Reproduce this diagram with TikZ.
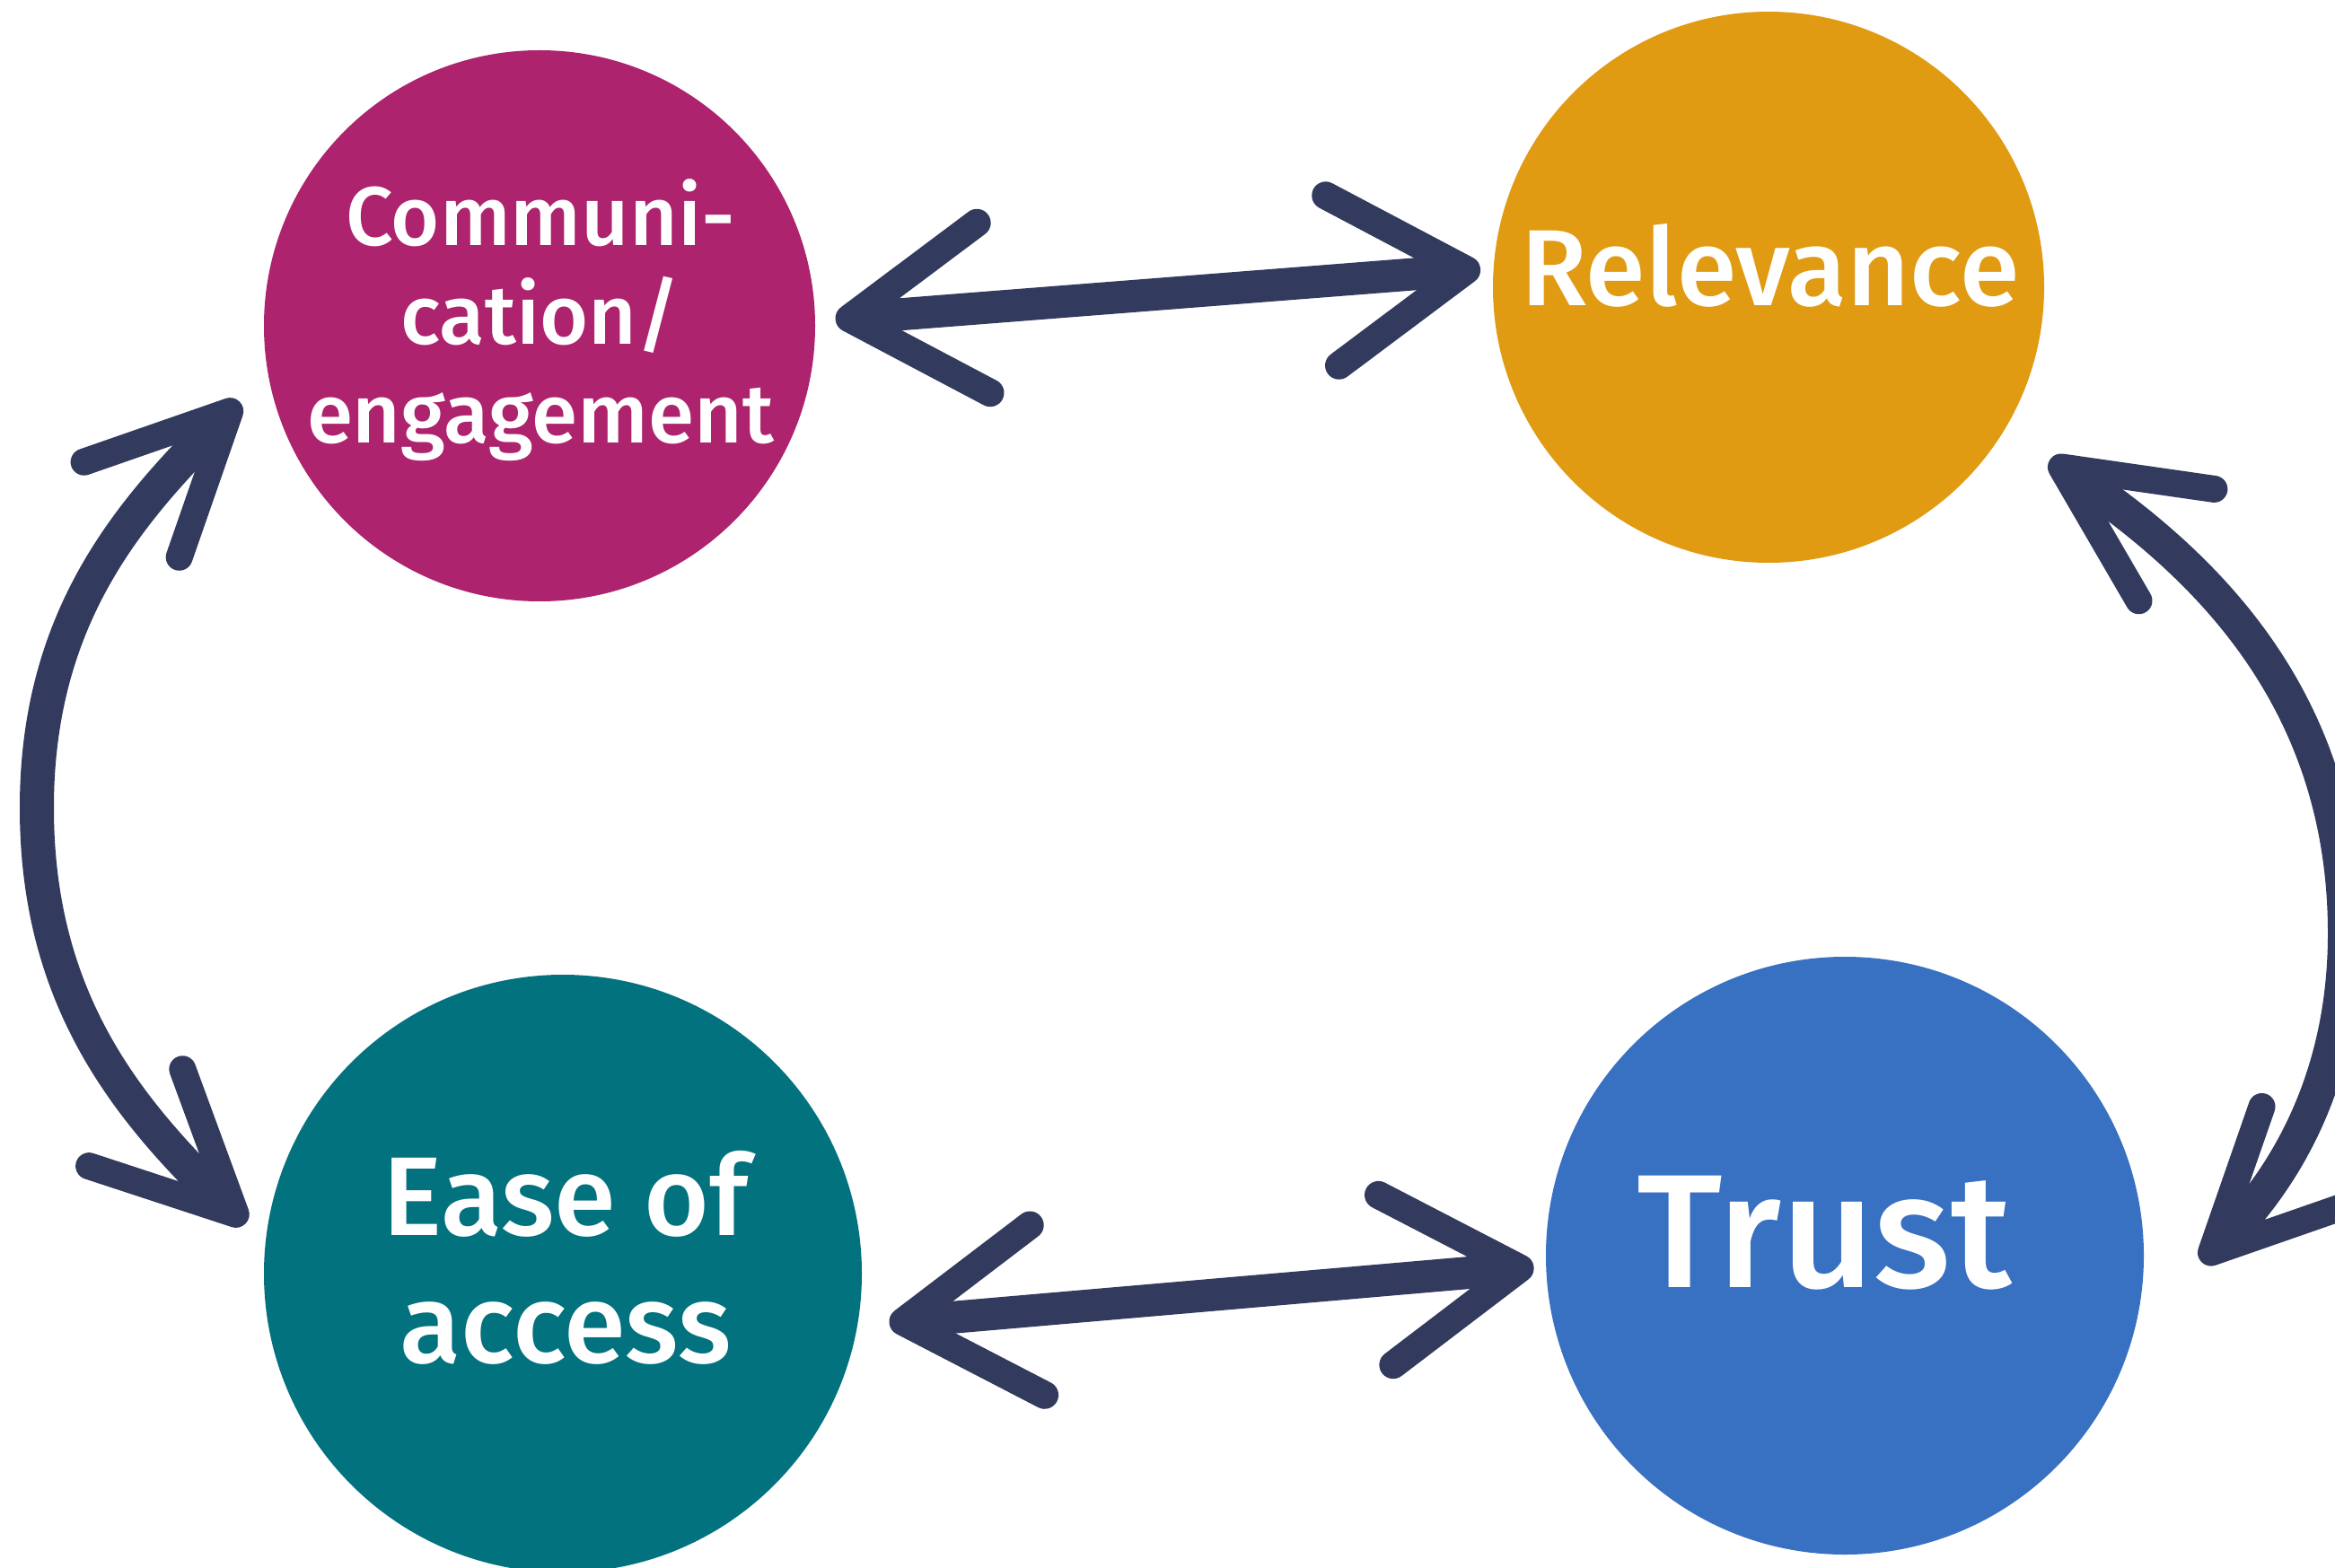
\documentclass[tikz,border=0pt]{standalone}
\usepackage{fontspec}
\setmainfont{Fira Sans}[BoldFont={Fira Sans Medium}]
\usepackage{tikz}
\usetikzlibrary{arrows.meta}
\definecolor{commpink}{RGB}{173,35,110}
\definecolor{relorange}{RGB}{224,155,19}
\definecolor{easeteal}{RGB}{3,114,127}
\definecolor{trustblue}{RGB}{56,112,194}
\definecolor{arrowink}{RGB}{50,59,94}
\tikzset{blob/.style={circle, inner sep=0pt, minimum size=#1}}
\tikzset{blob/.default=6.14cm}
\tikzset{tag/.style={text=white, align=center, inner sep=0pt}}
\tikzset{twoway/.style={line width=3.6mm, draw=arrowink, line cap=round,
    >={Straight Barb[length=15mm, width=19mm, line width=3.1mm, round]}, <->}}
\tikzset{roundway/.style={twoway, line width=3.8mm,
    >={Straight Barb[length=15.5mm, width=15mm, line width=3mm, round]}}}

\begin{document}
\begin{tikzpicture}
  \useasboundingbox (0,0) rectangle (26.01,-17.47);

  \node (comm) at (6.01,-3.63)[blob, fill=commpink]{};
  \node (rel) at (19.70,-3.20)[blob, fill=relorange]{};
  \node (ease) at (6.27,-14.19)[blob=6.66cm, fill=easeteal]{};
  \node (trust) at (20.55,-13.99)[blob=6.66cm, fill=trustblue]{};

  \node (commtext) at (6.02,-3.57)[tag, font=\fontsize{26.4}{31.3}\selectfont\bfseries]{Communi-\\cation/\\engagement};
  \node (reltext) at (19.72,-3.41)[tag, anchor=base, font=\fontsize{34.3}{40}\selectfont\bfseries]{Relevance};
  \node (easetext) at (6.30,-14.01)[tag, font=\fontsize{35.5}{40.4}\selectfont\bfseries]{Ease of\\access};
  \node (trusttext) at (20.32,-14.34)[tag, anchor=base, font=\fontsize{51.2}{60}\selectfont\bfseries]{Trust};

  % the two straight ones
  \draw[twoway, shorten <=2.2mm, shorten >=1.4mm] (comm.1) -- (rel.176);
  \draw[twoway, shorten <=3.5mm, shorten >=1.3mm] (ease.350) -- (trust.182);

  % curved ones round the outside
  \coordinate (westbend) at (0.41,-9.00);
  \draw[roundway, shorten <=4.4mm, shorten >=3mm] (comm.190) to[out=225, in=90] (westbend)
    to[out=-90, in=136] (ease.174);
  \coordinate (eastbend) at (26.12,-10.40);
  \draw[roundway, shorten <=6mm, shorten >=10.4mm] (rel.329) to[out=-34, in=90] (eastbend)
    to[out=-90, in=45] (trust.346);
\end{tikzpicture}
\end{document}
